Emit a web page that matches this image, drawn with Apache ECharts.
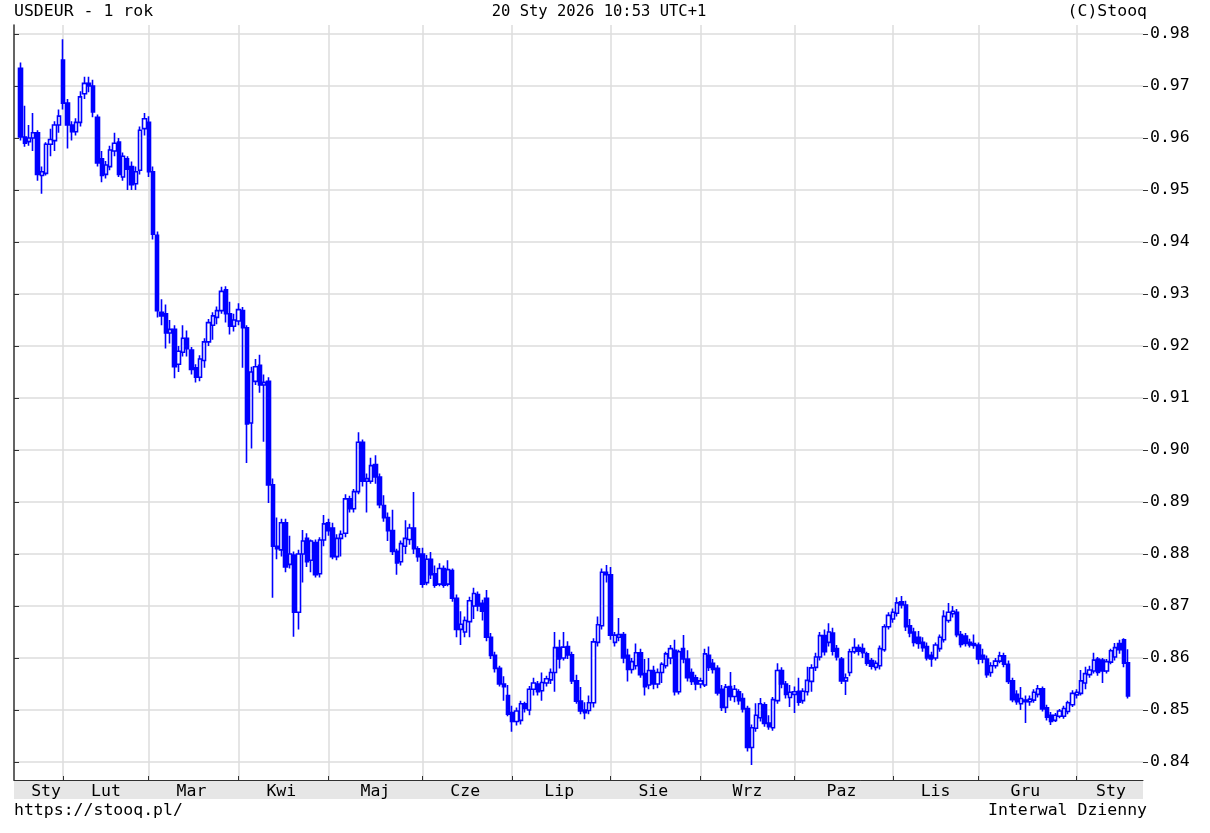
<!DOCTYPE html>
<html><head><meta charset="utf-8">
<script src="https://cdn.jsdelivr.net/npm/echarts@6/dist/echarts.min.js"></script>
<style>html,body{margin:0;padding:0;background:#fff}#c{width:1210px;height:833px}</style>
</head><body><div id="c"></div>
<script>
const monthNames = ['Sty','Lut','Mar','Kwi','Maj','Cze','Lip','Sie','Wrz','Paz','Lis','Gru'];
const yTicks = [0.84,0.85,0.86,0.87,0.88,0.89,0.90,0.91,0.92,0.93,0.94,0.95,0.96,0.97,0.98];
const firstDay = '2025-01-20', lastDay = '2026-01-20';
const skipDays = ['2025-04-18','2026-01-01'];
const padBefore = ['2025-01-17'], padAfter = ['2026-01-21','2026-01-22','2026-01-23'];
const titleLeft = 'USDEUR - 1 rok', titleCenter = '20 Sty 2026 10:53 UTC+1', titleRight = '(C)Stooq';
const footLeft = 'https://stooq.pl/', footRight = 'Interwal Dzienny';
// [open, close, low, high]
const jan25 = [[0.9734,0.9602,0.9595,0.9745],[0.9602,0.9590,0.9583,0.9662],[0.9593,0.9600,0.9585,0.9625],[0.9600,0.9610,0.9575,0.9648],[0.9610,0.9530,0.9518,0.9615],[0.9528,0.9535,0.9493,0.9545],[0.9532,0.9588,0.9528,0.9592],[0.9588,0.9597,0.9565,0.9618],[0.9595,0.9625,0.9575,0.9632],[0.9625,0.9642,0.9610,0.9655]];
const feb25 = [[0.9750,0.9667,0.9655,0.9790],[0.9667,0.9625,0.9580,0.9675],[0.9625,0.9612,0.9595,0.9632],[0.9612,0.9630,0.9605,0.9638],[0.9630,0.9679,0.9622,0.9690],[0.9685,0.9705,0.9675,0.9718],[0.9705,0.9700,0.9688,0.9718],[0.9700,0.9650,0.9640,0.9712],[0.9640,0.9552,0.9545,0.9645],[0.9560,0.9528,0.9515,0.9575],[0.9530,0.9548,0.9522,0.9556],[0.9545,0.9577,0.9538,0.9585],[0.9575,0.9590,0.9565,0.9610],[0.9592,0.9530,0.9525,0.9600],[0.9525,0.9565,0.9518,0.9572],[0.9560,0.9540,0.9500,0.9565],[0.9545,0.9510,0.9500,0.9555],[0.9512,0.9535,0.9500,0.9545],[0.9538,0.9615,0.9530,0.9622],[0.9618,0.9637,0.9605,0.9648]];
const mar25 = [[0.9630,0.9535,0.9525,0.9642],[0.9535,0.9415,0.9405,0.9545],[0.9413,0.9268,0.9255,0.9420],[0.9265,0.9258,0.9240,0.9290],[0.9262,0.9225,0.9195,0.9280],[0.9225,0.9232,0.9205,0.9250],[0.9232,0.9160,0.9138,0.9240],[0.9165,0.9190,0.9150,0.9200],[0.9188,0.9215,0.9180,0.9240],[0.9215,0.9195,0.9180,0.9230],[0.9192,0.9155,0.9145,0.9198],[0.9158,0.9140,0.9130,0.9165],[0.9140,0.9175,0.9132,0.9182],[0.9172,0.9208,0.9158,0.9215],[0.9208,0.9245,0.9200,0.9252],[0.9240,0.9258,0.9212,0.9265],[0.9255,0.9268,0.9242,0.9276],[0.9268,0.9305,0.9262,0.9314],[0.9308,0.9262,0.9245,0.9315],[0.9262,0.9238,0.9222,0.9285],[0.9238,0.9250,0.9228,0.9262]];
const apr25 = [[0.9248,0.9270,0.9240,0.9282],[0.9268,0.9235,0.9158,0.9275],[0.9235,0.9050,0.8975,0.9240],[0.9052,0.9150,0.9003,0.9160],[0.9132,0.9160,0.9125,0.9175],[0.9163,0.9125,0.9110,0.9183],[0.9125,0.9130,0.9016,0.9145],[0.9132,0.8933,0.8898,0.9140],[0.8933,0.8815,0.8716,0.8945],[0.8815,0.8810,0.8790,0.8870],[0.8808,0.8860,0.8795,0.8868],[0.8860,0.8775,0.8765,0.8868],[0.8780,0.8800,0.8772,0.8835],[0.8798,0.8688,0.8641,0.8805],[0.8688,0.8800,0.8655,0.8808],[0.8800,0.8825,0.8745,0.8846],[0.8830,0.8785,0.8775,0.8840],[0.8788,0.8825,0.8765,0.8828],[0.8822,0.8760,0.8755,0.8828],[0.8762,0.8827,0.8755,0.8832],[0.8827,0.8858,0.8815,0.8875]];
const may25 = [[0.8860,0.8845,0.8835,0.8868],[0.8850,0.8795,0.8790,0.8860],[0.8795,0.8830,0.8788,0.8838],[0.8830,0.8838,0.8795,0.8845],[0.8840,0.8906,0.8832,0.8915],[0.8906,0.8887,0.8880,0.8912],[0.8887,0.8920,0.8880,0.8925],[0.8920,0.9015,0.8915,0.9034],[0.9015,0.8940,0.8930,0.9020],[0.8940,0.8945,0.8880,0.8955],[0.8940,0.8970,0.8935,0.8985],[0.8972,0.8948,0.8935,0.8990],[0.8948,0.8895,0.8888,0.8955],[0.8893,0.8870,0.8862,0.8913],[0.8870,0.8845,0.8825,0.8880],[0.8845,0.8805,0.8798,0.8885],[0.8805,0.8783,0.8760,0.8810],[0.8785,0.8820,0.8778,0.8826],[0.8815,0.8830,0.8800,0.8865],[0.8828,0.8850,0.8818,0.8858],[0.8850,0.8810,0.8800,0.8919],[0.8810,0.8795,0.8785,0.8815]];
const jun25 = [[0.8800,0.8742,0.8735,0.8812],[0.8745,0.8790,0.8740,0.8798],[0.8790,0.8760,0.8752,0.8804],[0.8762,0.8740,0.8735,0.8778],[0.8742,0.8772,0.8738,0.8782],[0.8772,0.8740,0.8735,0.8778],[0.8742,0.8770,0.8738,0.8788],[0.8768,0.8715,0.8708,0.8772],[0.8715,0.8655,0.8640,0.8722],[0.8655,0.8665,0.8625,0.8690],[0.8650,0.8672,0.8640,0.8680],[0.8670,0.8710,0.8640,0.8718],[0.8700,0.8724,0.8675,0.8735],[0.8722,0.8700,0.8690,0.8728],[0.8705,0.8690,0.8672,0.8712],[0.8715,0.8640,0.8632,0.8731],[0.8640,0.8605,0.8598,0.8648],[0.8605,0.8580,0.8572,0.8612],[0.8580,0.8550,0.8545,0.8585],[0.8550,0.8545,0.8518,0.8565],[0.8528,0.8492,0.8488,0.8548]];
const jul25 = [[0.8495,0.8478,0.8458,0.8508],[0.8478,0.8498,0.8470,0.8505],[0.8480,0.8512,0.8472,0.8518],[0.8512,0.8503,0.8495,0.8516],[0.8500,0.8540,0.8490,0.8546],[0.8540,0.8552,0.8528,0.8562],[0.8550,0.8535,0.8528,0.8556],[0.8537,0.8553,0.8518,0.8572],[0.8552,0.8560,0.8545,0.8566],[0.8558,0.8572,0.8550,0.8580],[0.8572,0.8620,0.8535,0.8650],[0.8620,0.8598,0.8580,0.8635],[0.8600,0.8621,0.8595,0.8650],[0.8622,0.8606,0.8598,0.8632],[0.8606,0.8556,0.8550,0.8612],[0.8556,0.8517,0.8512,0.8568],[0.8517,0.8498,0.8492,0.8544],[0.8500,0.8495,0.8482,0.8515],[0.8499,0.8514,0.8492,0.8528],[0.8514,0.8631,0.8505,0.8638],[0.8630,0.8664,0.8622,0.8680],[0.8662,0.8765,0.8655,0.8772],[0.8765,0.8760,0.8745,0.8779]];
const aug25 = [[0.8760,0.8644,0.8635,0.8775],[0.8630,0.8644,0.8622,0.8650],[0.8640,0.8645,0.8632,0.8677],[0.8645,0.8600,0.8590,0.8650],[0.8605,0.8578,0.8555,0.8618],[0.8578,0.8593,0.8570,0.8600],[0.8585,0.8610,0.8578,0.8628],[0.8610,0.8568,0.8562,0.8618],[0.8570,0.8545,0.8528,0.8598],[0.8548,0.8576,0.8540,0.8600],[0.8576,0.8550,0.8540,0.8585],[0.8550,0.8572,0.8542,0.8580],[0.8572,0.8588,0.8552,0.8592],[0.8585,0.8608,0.8580,0.8612],[0.8600,0.8618,0.8588,0.8625],[0.8615,0.8535,0.8528,0.8635],[0.8535,0.8612,0.8530,0.8616],[0.8618,0.8598,0.8590,0.8644],[0.8598,0.8562,0.8555,0.8615],[0.8572,0.8555,0.8548,0.8580],[0.8562,0.8550,0.8538,0.8568]];
const sep25 = [[0.8550,0.8556,0.8542,0.8562],[0.8548,0.8608,0.8544,0.8618],[0.8605,0.8582,0.8575,0.8622],[0.8590,0.8578,0.8570,0.8598],[0.8580,0.8533,0.8528,0.8586],[0.8540,0.8505,0.8498,0.8548],[0.8505,0.8544,0.8494,0.8550],[0.8545,0.8526,0.8518,0.8573],[0.8526,0.8540,0.8515,0.8548],[0.8535,0.8518,0.8510,0.8540],[0.8522,0.8502,0.8495,0.8532],[0.8503,0.8428,0.8420,0.8508],[0.8428,0.8466,0.8394,0.8472],[0.8465,0.8490,0.8458,0.8513],[0.8485,0.8512,0.8478,0.8523],[0.8510,0.8474,0.8468,0.8515],[0.8475,0.8468,0.8462,0.8490],[0.8466,0.8520,0.8460,0.8525],[0.8518,0.8576,0.8512,0.8590],[0.8576,0.8550,0.8542,0.8582],[0.8550,0.8530,0.8522,0.8556],[0.8524,0.8534,0.8506,0.8548]];
const oct25 = [[0.8530,0.8535,0.8494,0.8545],[0.8536,0.8515,0.8508,0.8562],[0.8518,0.8536,0.8512,0.8542],[0.8535,0.8557,0.8528,0.8583],[0.8555,0.8581,0.8535,0.8588],[0.8582,0.8602,0.8575,0.8610],[0.8602,0.8643,0.8595,0.8650],[0.8643,0.8612,0.8605,0.8655],[0.8630,0.8650,0.8622,0.8667],[0.8648,0.8613,0.8605,0.8658],[0.8618,0.8602,0.8595,0.8625],[0.8598,0.8556,0.8550,0.8602],[0.8556,0.8562,0.8529,0.8570],[0.8572,0.8612,0.8565,0.8618],[0.8612,0.8620,0.8608,0.8638],[0.8620,0.8613,0.8605,0.8626],[0.8618,0.8610,0.8600,0.8628],[0.8608,0.8590,0.8585,0.8612],[0.8595,0.8584,0.8578,0.8600],[0.8582,0.8590,0.8576,0.8595],[0.8585,0.8618,0.8578,0.8624],[0.8616,0.8660,0.8612,0.8665],[0.8660,0.8682,0.8655,0.8688]];
const nov25 = [[0.8675,0.8688,0.8668,0.8695],[0.8686,0.8706,0.8680,0.8717],[0.8708,0.8702,0.8695,0.8719],[0.8702,0.8660,0.8652,0.8710],[0.8662,0.8648,0.8640,0.8675],[0.8650,0.8630,0.8622,0.8658],[0.8640,0.8628,0.8618,0.8652],[0.8630,0.8620,0.8612,0.8640],[0.8622,0.8600,0.8595,0.8630],[0.8605,0.8598,0.8583,0.8612],[0.8600,0.8625,0.8595,0.8630],[0.8618,0.8640,0.8612,0.8645],[0.8635,0.8680,0.8630,0.8692],[0.8672,0.8688,0.8668,0.8706],[0.8685,0.8690,0.8678,0.8700],[0.8688,0.8645,0.8640,0.8694],[0.8645,0.8626,0.8620,0.8652],[0.8642,0.8628,0.8622,0.8648],[0.8630,0.8625,0.8620,0.8637],[0.8628,0.8624,0.8618,0.8645]];
const dec25 = [[0.8625,0.8598,0.8588,0.8630],[0.8605,0.8598,0.8590,0.8618],[0.8598,0.8568,0.8562,0.8605],[0.8572,0.8585,0.8564,0.8592],[0.8585,0.8594,0.8580,0.8600],[0.8594,0.8604,0.8590,0.8612],[0.8604,0.8588,0.8582,0.8610],[0.8588,0.8555,0.8550,0.8595],[0.8556,0.8520,0.8515,0.8562],[0.8530,0.8516,0.8510,0.8538],[0.8512,0.8522,0.8500,0.8544],[0.8516,0.8519,0.8475,0.8528],[0.8516,0.8521,0.8508,0.8528],[0.8519,0.8534,0.8514,0.8540],[0.8530,0.8541,0.8524,0.8548],[0.8541,0.8502,0.8497,0.8545],[0.8504,0.8486,0.8480,0.8510],[0.8490,0.8478,0.8471,0.8496],[0.8480,0.8490,0.8477,0.8494],[0.8488,0.8498,0.8484,0.8502],[0.8488,0.8503,0.8483,0.8508],[0.8497,0.8514,0.8492,0.8518],[0.8510,0.8532,0.8506,0.8538]];
const jan26 = [[0.8529,0.8534,0.8522,0.8540],[0.8532,0.8556,0.8528,0.8577],[0.8552,0.8570,0.8540,0.8583],[0.8568,0.8577,0.8562,0.8585],[0.8575,0.8596,0.8570,0.8610],[0.8598,0.8572,0.8566,0.8602],[0.8596,0.8575,0.8552,0.8600],[0.8575,0.8593,0.8570,0.8598],[0.8592,0.8614,0.8588,0.8618],[0.8602,0.8620,0.8595,0.8629],[0.8628,0.8616,0.8608,0.8635],[0.8635,0.8590,0.8582,0.8638],[0.8591,0.8527,0.8522,0.8617]];

const ohlc = [].concat(jan25,feb25,mar25,apr25,may25,jun25,jul25,aug25,sep25,oct25,nov25,dec25,jan26);

// trading days (weekdays, minus skipped days)
const tradeDates = [];
(function(){
  const end = new Date(lastDay + 'T00:00:00Z');
  for (let d = new Date(firstDay + 'T00:00:00Z'); d <= end; d.setUTCDate(d.getUTCDate() + 1)) {
    const wd = d.getUTCDay();
    if (wd === 0 || wd === 6) continue;
    const s = d.toISOString().slice(0, 10);
    if (skipDays.indexOf(s) >= 0) continue;
    tradeDates.push(s);
  }
})();
const categories = padBefore.concat(tradeDates, padAfter);
const empty = ['-','-','-','-'];
const seriesData = padBefore.map(() => empty).concat(ohlc, padAfter.map(() => empty));

// month groups (category indices)
const groups = [];
tradeDates.forEach((d, i) => {
  const key = d.slice(0, 7);
  const ci = i + padBefore.length;
  if (!groups.length || groups[groups.length - 1].key !== key) groups.push({ key, start: ci, count: 0 });
  groups[groups.length - 1].count++;
});
const gridIdx = new Set(groups.slice(1).map(g => g.start));
const labelMap = new Map();
groups.forEach((g, gi) => {
  const extra = gi === 0 ? 1 : (gi === groups.length - 1 ? 2 : 0);
  labelMap.set(g.start + Math.floor(g.count / 2) + extra, monthNames[parseInt(g.key.slice(5, 7), 10) - 1]);
});

const FONT = '"DejaVu Sans Mono", monospace';
const FS = 16.5;
const L = 14, R = 1143, T = 25, B = 780;
const yMin = 0.84 - (B - 762) / 5200, yMax = 0.98 + (34 - T) / 5200;

const chart = echarts.init(document.getElementById('c'), null, { renderer: 'canvas' });
chart.setOption({
  animation: false,
  backgroundColor: '#ffffff',
  grid: { left: L, right: 1210 - R, top: T, bottom: 833 - B, containLabel: false },
  xAxis: {
    type: 'category', data: categories, boundaryGap: true,
    axisLine: { show: true, lineStyle: { color: '#303030', width: 1 } },
    axisTick: { show: true, inside: true, length: 4, alignWithLabel: true, interval: (i) => gridIdx.has(i), lineStyle: { color: '#303030', width: 1 } },
    axisLabel: { show: true, interval: (i) => labelMap.has(i), formatter: (v, i) => labelMap.get(i) || '', color: '#000', fontFamily: FONT, fontSize: FS, margin: 3 },
    splitLine: { show: true, alignWithLabel: true, interval: (i) => gridIdx.has(i), lineStyle: { color: '#dcdcdc', width: 1.5 } }
  },
  yAxis: [
    {
      type: 'value', position: 'right', min: yMin, max: yMax, scale: true,
      axisLine: { show: false },
      axisTick: { show: true, length: 5, customValues: yTicks, lineStyle: { color: '#303030' } },
      axisLabel: { customValues: yTicks, formatter: (v) => v.toFixed(2), color: '#000', fontFamily: FONT, fontSize: FS, margin: 7 },
      splitLine: { show: true, lineStyle: { color: '#dcdcdc', width: 1.5 } }
    },
    {
      type: 'value', position: 'left', min: yMin, max: yMax, scale: true,
      axisLine: { show: true, lineStyle: { color: '#303030', width: 1.5 } },
      axisTick: { show: true, inside: true, length: 5, customValues: yTicks, lineStyle: { color: '#303030' } },
      axisLabel: { show: false },
      splitLine: { show: false }
    }
  ],
  series: [{
    type: 'candlestick', xAxisIndex: 0, yAxisIndex: 0,
    data: seriesData, barWidth: 3.8,
    itemStyle: { color: '#ffffff', color0: '#0000ff', borderColor: '#0000ff', borderColor0: '#0000ff', borderWidth: 1.6 }
  }],
  graphic: [
    { type: 'rect', z: -10, shape: { x: L, y: B, width: R - L, height: 19 }, style: { fill: '#e6e6e6' } },
    { type: 'text', x: L, y: 12, style: { text: titleLeft, font: FS + 'px ' + FONT, fill: '#000', textAlign: 'left', textVerticalAlign: 'middle' } },
    { type: 'text', x: 599, y: 12, style: { text: titleCenter, font: '15.5px ' + FONT, fill: '#000', textAlign: 'center', textVerticalAlign: 'middle' } },
    { type: 'text', x: 1147, y: 12, style: { text: titleRight, font: FS + 'px ' + FONT, fill: '#000', textAlign: 'right', textVerticalAlign: 'middle' } },
    { type: 'text', x: L, y: 811, style: { text: footLeft, font: FS + 'px ' + FONT, fill: '#000', textAlign: 'left', textVerticalAlign: 'middle' } },
    { type: 'text', x: 1147, y: 811, style: { text: footRight, font: FS + 'px ' + FONT, fill: '#000', textAlign: 'right', textVerticalAlign: 'middle' } }
  ]
});
</script></body></html>
